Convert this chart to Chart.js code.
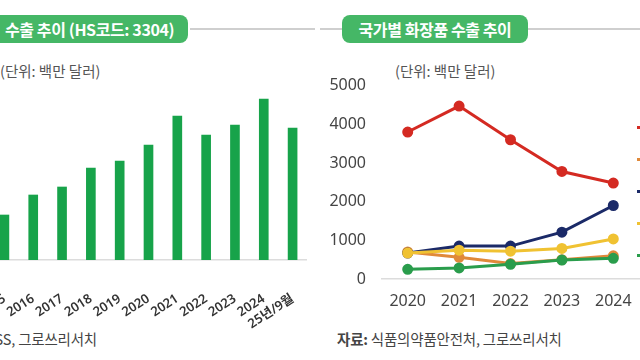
<!DOCTYPE html>
<html>
<head>
<meta charset="utf-8">
<script src="https://cdn.jsdelivr.net/npm/chart.js@4"></script>
<style>
  body { margin: 0; width: 640px; height: 360px; overflow: hidden; background: #fff; position: relative;
         font-family: "Noto Sans CJK KR", "Noto Sans", sans-serif; }
  .pill { position: absolute; top: 15px; height: 28px; line-height: 28px; background: #45b766; color: #fff;
          font-weight: 700; font-size: 16px; letter-spacing: -0.4px; border-radius: 8px; white-space: nowrap; }
  .rule { position: absolute; top: 28px; height: 1.5px; background: #cfcfcf; }
  .unit { position: absolute; top: 60px; font-size: 14.5px; color: #555; white-space: nowrap; }
  .src { position: absolute; top: 328px; font-size: 14.5px; color: #444; letter-spacing: -0.2px; white-space: nowrap; }
  .lg { position: absolute; left: 637px; width: 40px; height: 12px; white-space: nowrap; font-size: 13px; }
  .lg i { display: inline-block; width: 16px; height: 3px; vertical-align: middle; }
  canvas { position: absolute; }
</style>
</head>
<body>
<div class="rule" style="left:190px;width:125px"></div>
<div class="pill" style="left:-10px;width:198px;padding-left:15px;box-sizing:border-box">수출 추이 (HS코드: 3304)</div>
<div class="unit" style="left:0px">(단위: 백만 달러)</div>
<div class="src" style="right:543px">자료: KITA, TRASS, 그로쓰리서치</div>

<div class="rule" style="left:320px;width:22px"></div>
<div class="rule" style="left:528px;width:112px"></div>
<div class="pill" style="left:342px;width:186px;text-align:center">국가별 화장품 수출 추이</div>
<div class="unit" style="left:395px">(단위: 백만 달러)</div>
<div class="src" style="left:337px"><b>자료:</b> 식품의약품안전처, 그로쓰리서치</div>

<canvas id="bars" width="317" height="250" style="left:-10px;top:80px"></canvas>
<canvas id="lines" width="326" height="280" style="left:320px;top:60px"></canvas>
<div id="legend"></div>

<script>
// 왼쪽: HS 3304 수출액 (백만 달러)
const years = ['2015', '2016', '2017', '2018', '2019', '2020', '2021', '2022', '2023', '2024', '25년/9월'];
const exportValues = [2250, 3250, 3650, 4600, 4950, 5750, 7200, 6250, 6750, 8050, 6600];

// 오른쪽: 국가별 화장품 수출 (백만 달러)
const lineYears = ['2020', '2021', '2022', '2023', '2024'];
const countries = ['중국', '홍콩', '미국', '일본', '베트남'];
const china = [3800, 4470, 3600, 2780, 2480];
const hongkong = [700, 560, 400, 500, 600];
const usa = [670, 850, 850, 1210, 1900];
const japan = [670, 745, 720, 790, 1035];
const vietnam = [250, 285, 380, 490, 535];
const yTicks = [0, 1000, 2000, 3000, 4000, 5000];

const lineColors = ['#d42a22', '#e0893a', '#1b2a68', '#f0c232', '#2a9d4c'];
const drawOrder = [4, 3, 2, 1, 0];

const tickFont = { family: "'Noto Sans', 'Noto Sans CJK KR', sans-serif" };

new Chart(document.getElementById('bars'), {
  type: 'bar',
  data: {
    labels: years,
    datasets: [{
      data: exportValues,
      backgroundColor: '#17a34a',
      barThickness: 9
    }]
  },
  options: {
    responsive: false,
    animation: false,
    layout: { padding: { top: 10, left: 0, right: 0, bottom: 0 } },
    plugins: { legend: { display: false }, tooltip: { enabled: false } },
    scales: {
      y: { display: false, min: 0, max: 8500 },
      x: {
        grid: { display: false },
        border: { color: '#dcdcdc', width: 1.5 },
        ticks: {
          autoSkip: false,
          minRotation: 33,
          maxRotation: 33,
          padding: 23,
          color: '#333',
          font: { ...tickFont, size: 13, weight: '600' }
        },
        afterFit(scale) {
          scale.height = 70;
          scale.paddingLeft = 0;
          scale.paddingRight = 0;
        }
      }
    }
  }
});

const seriesData = [china, hongkong, usa, japan, vietnam];

new Chart(document.getElementById('lines'), {
  type: 'line',
  data: {
    labels: lineYears,
    datasets: countries.map((name, i) => ({
      label: name,
      data: seriesData[i],
      borderColor: lineColors[i],
      backgroundColor: lineColors[i],
      borderWidth: 3,
      pointRadius: 4,
      pointHoverRadius: 4,
      tension: 0,
      order: drawOrder[i]
    }))
  },
  options: {
    responsive: false,
    animation: false,
    layout: { padding: { top: 13, left: 0, right: 0, bottom: 0 } },
    plugins: { legend: { display: false }, tooltip: { enabled: false } },
    scales: {
      x: {
        offset: true,
        grid: { display: false, drawTicks: false },
        border: { color: '#dcdcdc', width: 1.5 },
        ticks: { padding: 13, color: '#444', font: { ...tickFont, size: 16 } },
        afterFit(scale) {
          scale.height = 61;
          scale.paddingLeft = 0;
          scale.paddingRight = 0;
        }
      },
      y: {
        min: 0,
        max: 5000,
        afterBuildTicks(scale) {
          scale.ticks = yTicks.map(v => ({ value: v }));
        },
        grid: { display: false, drawTicks: false },
        border: { display: false },
        ticks: {
          padding: 16,
          color: '#444',
          font: { ...tickFont, size: 16 },
          callback: v => String(v)
        },
        afterFit(scale) {
          scale.width = 62;
        }
      }
    }
  }
});

// 오른쪽 범례 (원본에서 잘려서 가장자리만 보임)
const legend = document.getElementById('legend');
countries.forEach((name, i) => {
  const item = document.createElement('div');
  item.className = 'lg';
  item.style.top = (116 + i * 32) + 'px';
  item.innerHTML = `<i style="background:${lineColors[i]}"></i> ${name}`;
  legend.appendChild(item);
});
</script>
</body>
</html>
